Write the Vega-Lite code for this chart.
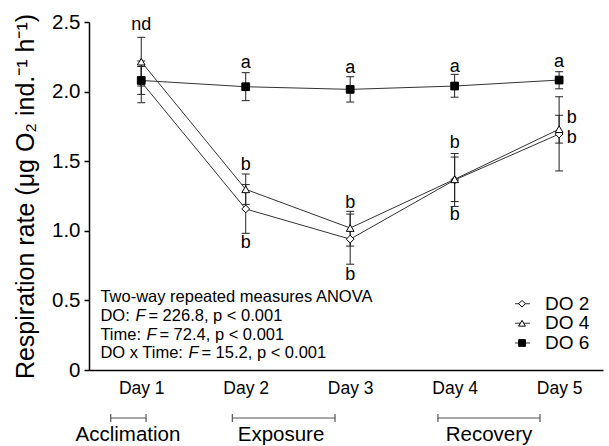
{
  "$schema": "https://vega.github.io/schema/vega-lite/v6.json",
  "width": 514,
  "height": 348,
  "autosize": "none",
  "padding": {"left": 89, "top": 22, "right": 6, "bottom": 76},
  "background": "white",
  "config": {
    "view": {"stroke": null},
    "font": "Liberation Sans",
    "axis": {"grid": false, "domainColor": "black", "domainWidth": 1.5, "labelColor": "black", "titleColor": "black", "labelFont": "Liberation Sans", "titleFont": "Liberation Sans"}
  },
  "datasets": {
    "resp": [
      {"day": 1, "group": "DO 2", "mean": 2.07, "lower": 1.92, "upper": 2.22},
      {"day": 2, "group": "DO 2", "mean": 1.157, "lower": 0.982, "upper": 1.332},
      {"day": 3, "group": "DO 2", "mean": 0.94, "lower": 0.76, "upper": 1.12},
      {"day": 4, "group": "DO 2", "mean": 1.365, "lower": 1.175, "upper": 1.555},
      {"day": 5, "group": "DO 2", "mean": 1.695, "lower": 1.43, "upper": 1.963},
      {"day": 1, "group": "DO 4", "mean": 2.215, "lower": 2.04, "upper": 2.39},
      {"day": 2, "group": "DO 4", "mean": 1.298, "lower": 1.19, "upper": 1.408},
      {"day": 3, "group": "DO 4", "mean": 1.02, "lower": 0.89, "upper": 1.14},
      {"day": 4, "group": "DO 4", "mean": 1.37, "lower": 1.21, "upper": 1.53},
      {"day": 5, "group": "DO 4", "mean": 1.73, "lower": 1.63, "upper": 1.83},
      {"day": 1, "group": "DO 6", "mean": 2.08, "lower": 1.98, "upper": 2.18},
      {"day": 2, "group": "DO 6", "mean": 2.035, "lower": 1.935, "upper": 2.136},
      {"day": 3, "group": "DO 6", "mean": 2.016, "lower": 1.925, "upper": 2.107},
      {"day": 4, "group": "DO 6", "mean": 2.04, "lower": 1.96, "upper": 2.124},
      {"day": 5, "group": "DO 6", "mean": 2.083, "lower": 2.02, "upper": 2.143}
    ],
    "letters": [
      {"day": 1, "level": 2.478, "label": "nd"},
      {"day": 2, "level": 2.203, "label": "a"},
      {"day": 2, "level": 1.473, "label": "b"},
      {"day": 2, "level": 0.912, "label": "b"},
      {"day": 3, "level": 2.172, "label": "a"},
      {"day": 3, "level": 1.202, "label": "b"},
      {"day": 3, "level": 0.682, "label": "b"},
      {"day": 4, "level": 2.175, "label": "a"},
      {"day": 4, "level": 1.629, "label": "b"},
      {"day": 4, "level": 1.113, "label": "b"},
      {"day": 5, "level": 2.21, "label": "a"},
      {"day": 5.12, "level": 1.812, "label": "b"},
      {"day": 5.12, "level": 1.667, "label": "b"}
    ],
    "periods": [
      {"period": "Acclimation", "start": 0.708, "end": 1.046, "mid": 0.873, "level": -0.345, "labelLevel": -0.465},
      {"period": "Exposure", "start": 1.872, "end": 2.855, "mid": 2.338, "level": -0.345, "labelLevel": -0.465},
      {"period": "Recovery", "start": 3.84, "end": 4.817, "mid": 4.329, "level": -0.345, "labelLevel": -0.465}
    ],
    "legendRows": [
      {"group": "DO 2", "symX": 4.645, "lineStart": 4.578, "lineEnd": 4.721, "textX": 4.865, "level": 0.476},
      {"group": "DO 4", "symX": 4.645, "lineStart": 4.578, "lineEnd": 4.721, "textX": 4.865, "level": 0.336},
      {"group": "DO 6", "symX": 4.645, "lineStart": 4.578, "lineEnd": 4.721, "textX": 4.865, "level": 0.194}
    ],
    "anova": [
      {"row": 1, "x": 0.609, "level": 0.527, "prefix": "Two-way repeated measures ANOVA", "rest": ""},
      {"row": 2, "x": 0.609, "level": 0.388, "prefix": "DO:", "rest": "= 226.8, p < 0.001"},
      {"row": 3, "x": 0.609, "level": 0.251, "prefix": "Time:", "rest": "= 72.4, p < 0.001"},
      {"row": 4, "x": 0.609, "level": 0.122, "prefix": "DO x Time:", "rest": "= 15.2, p < 0.001"}
    ]
  },
  "layer": [
    {
      "data": {"name": "resp"},
      "mark": {"type": "rule", "stroke": "#222222", "strokeWidth": 1},
      "encoding": {
        "x": {"field": "day", "type": "quantitative", "scale": {"domain": [0.5, 5.42], "nice": false, "zero": false},
          "axis": {"values": [1, 2, 3, 4, 5], "labelExpr": "'Day ' + datum.value", "ticks": false, "labelFontSize": 17.5, "labelDx": -13, "labelPadding": 9, "title": null, "labelFlush": false, "labelOverlap": false}},
        "y": {"field": "lower", "type": "quantitative", "scale": {"domain": [0, 2.5], "nice": false},
          "axis": {"values": [0, 0.5, 1, 1.5, 2, 2.5], "labelExpr": "datum.value == 0 ? '0' : format(datum.value, '.1f')", "tickSize": 5, "tickColor": "black", "tickWidth": 1.5, "labelFontSize": 20.5, "labelPadding": 4, "title": "Respiration rate (μg O₂ ind.⁻¹ h⁻¹)", "titleFontSize": 25, "titleFontWeight": "normal", "titlePadding": 13}},
        "y2": {"field": "upper"}
      }
    },
    {
      "data": {"name": "resp"},
      "mark": {"type": "tick", "orient": "horizontal", "size": 8, "thickness": 1, "color": "#222222", "opacity": 1},
      "encoding": {
        "x": {"field": "day", "type": "quantitative"},
        "y": {"field": "lower", "type": "quantitative"}
      }
    },
    {
      "data": {"name": "resp"},
      "mark": {"type": "tick", "orient": "horizontal", "size": 8, "thickness": 1, "color": "#222222", "opacity": 1},
      "encoding": {
        "x": {"field": "day", "type": "quantitative"},
        "y": {"field": "upper", "type": "quantitative"}
      }
    },
    {
      "data": {"name": "resp"},
      "mark": {"type": "line", "stroke": "#333333", "strokeWidth": 1},
      "encoding": {
        "x": {"field": "day", "type": "quantitative"},
        "y": {"field": "mean", "type": "quantitative"},
        "detail": {"field": "group"}
      }
    },
    {
      "data": {"name": "resp"},
      "mark": {"type": "point", "filled": true, "stroke": "black", "strokeWidth": 1, "opacity": 1, "size": 60},
      "encoding": {
        "x": {"field": "day", "type": "quantitative"},
        "y": {"field": "mean", "type": "quantitative"},
        "shape": {"field": "group", "type": "nominal", "scale": {"domain": ["DO 2", "DO 4", "DO 6"], "range": ["diamond", "triangle-up", "square"]}, "legend": null},
        "fill": {"field": "group", "type": "nominal", "scale": {"domain": ["DO 2", "DO 4", "DO 6"], "range": ["white", "white", "black"]}, "legend": null}
      }
    },
    {
      "data": {"name": "letters"},
      "mark": {"type": "text", "fontSize": 18, "color": "black", "baseline": "middle", "align": "center"},
      "encoding": {
        "x": {"field": "day", "type": "quantitative"},
        "y": {"field": "level", "type": "quantitative"},
        "text": {"field": "label"}
      }
    },
    {
      "data": {"name": "periods"},
      "mark": {"type": "rule", "stroke": "#555555", "strokeWidth": 1.2, "clip": false},
      "encoding": {
        "x": {"field": "start", "type": "quantitative"},
        "x2": {"field": "end"},
        "y": {"field": "level", "type": "quantitative"}
      }
    },
    {
      "data": {"name": "periods"},
      "mark": {"type": "tick", "orient": "vertical", "size": 8, "thickness": 1.2, "color": "#555555", "opacity": 1, "clip": false},
      "encoding": {
        "x": {"field": "start", "type": "quantitative"},
        "y": {"field": "level", "type": "quantitative"}
      }
    },
    {
      "data": {"name": "periods"},
      "mark": {"type": "tick", "orient": "vertical", "size": 8, "thickness": 1.2, "color": "#555555", "opacity": 1, "clip": false},
      "encoding": {
        "x": {"field": "end", "type": "quantitative"},
        "y": {"field": "level", "type": "quantitative"}
      }
    },
    {
      "data": {"name": "periods"},
      "mark": {"type": "text", "fontSize": 20.5, "color": "black", "baseline": "middle", "align": "center", "clip": false},
      "encoding": {
        "x": {"field": "mid", "type": "quantitative"},
        "y": {"field": "labelLevel", "type": "quantitative"},
        "text": {"field": "period"}
      }
    },
    {
      "data": {"name": "legendRows"},
      "mark": {"type": "rule", "stroke": "#333333", "strokeWidth": 1},
      "encoding": {
        "x": {"field": "lineStart", "type": "quantitative"},
        "x2": {"field": "lineEnd"},
        "y": {"field": "level", "type": "quantitative"}
      }
    },
    {
      "data": {"name": "legendRows"},
      "mark": {"type": "point", "filled": true, "stroke": "black", "strokeWidth": 1, "opacity": 1, "size": 45},
      "encoding": {
        "x": {"field": "symX", "type": "quantitative"},
        "y": {"field": "level", "type": "quantitative"},
        "shape": {"field": "group", "type": "nominal", "legend": null},
        "fill": {"field": "group", "type": "nominal", "legend": null}
      }
    },
    {
      "data": {"name": "legendRows"},
      "mark": {"type": "text", "fontSize": 19, "color": "black", "baseline": "middle", "align": "left"},
      "encoding": {
        "x": {"field": "textX", "type": "quantitative"},
        "y": {"field": "level", "type": "quantitative"},
        "text": {"field": "group"}
      }
    },
    {
      "data": {"name": "anova"},
      "mark": {"type": "text", "fontSize": 16.5, "color": "black", "baseline": "middle", "align": "left"},
      "encoding": {
        "x": {"field": "x", "type": "quantitative"},
        "y": {"field": "level", "type": "quantitative"},
        "text": {"field": "prefix"}
      }
    },
    {
      "data": {"name": "anova"},
      "transform": [{"filter": "datum.row == 2"}],
      "layer": [
        {"mark": {"type": "text", "fontSize": 16.5, "fontStyle": "italic", "color": "black", "baseline": "middle", "align": "left", "dx": 35},
         "encoding": {"x": {"field": "x", "type": "quantitative"}, "y": {"field": "level", "type": "quantitative"}, "text": {"value": "F"}}},
        {"mark": {"type": "text", "fontSize": 16.5, "color": "black", "baseline": "middle", "align": "left", "dx": 48},
         "encoding": {"x": {"field": "x", "type": "quantitative"}, "y": {"field": "level", "type": "quantitative"}, "text": {"field": "rest"}}}
      ]
    },
    {
      "data": {"name": "anova"},
      "transform": [{"filter": "datum.row == 3"}],
      "layer": [
        {"mark": {"type": "text", "fontSize": 16.5, "fontStyle": "italic", "color": "black", "baseline": "middle", "align": "left", "dx": 46},
         "encoding": {"x": {"field": "x", "type": "quantitative"}, "y": {"field": "level", "type": "quantitative"}, "text": {"value": "F"}}},
        {"mark": {"type": "text", "fontSize": 16.5, "color": "black", "baseline": "middle", "align": "left", "dx": 59},
         "encoding": {"x": {"field": "x", "type": "quantitative"}, "y": {"field": "level", "type": "quantitative"}, "text": {"field": "rest"}}}
      ]
    },
    {
      "data": {"name": "anova"},
      "transform": [{"filter": "datum.row == 4"}],
      "layer": [
        {"mark": {"type": "text", "fontSize": 16.5, "fontStyle": "italic", "color": "black", "baseline": "middle", "align": "left", "dx": 88},
         "encoding": {"x": {"field": "x", "type": "quantitative"}, "y": {"field": "level", "type": "quantitative"}, "text": {"value": "F"}}},
        {"mark": {"type": "text", "fontSize": 16.5, "color": "black", "baseline": "middle", "align": "left", "dx": 101},
         "encoding": {"x": {"field": "x", "type": "quantitative"}, "y": {"field": "level", "type": "quantitative"}, "text": {"field": "rest"}}}
      ]
    }
  ]
}
